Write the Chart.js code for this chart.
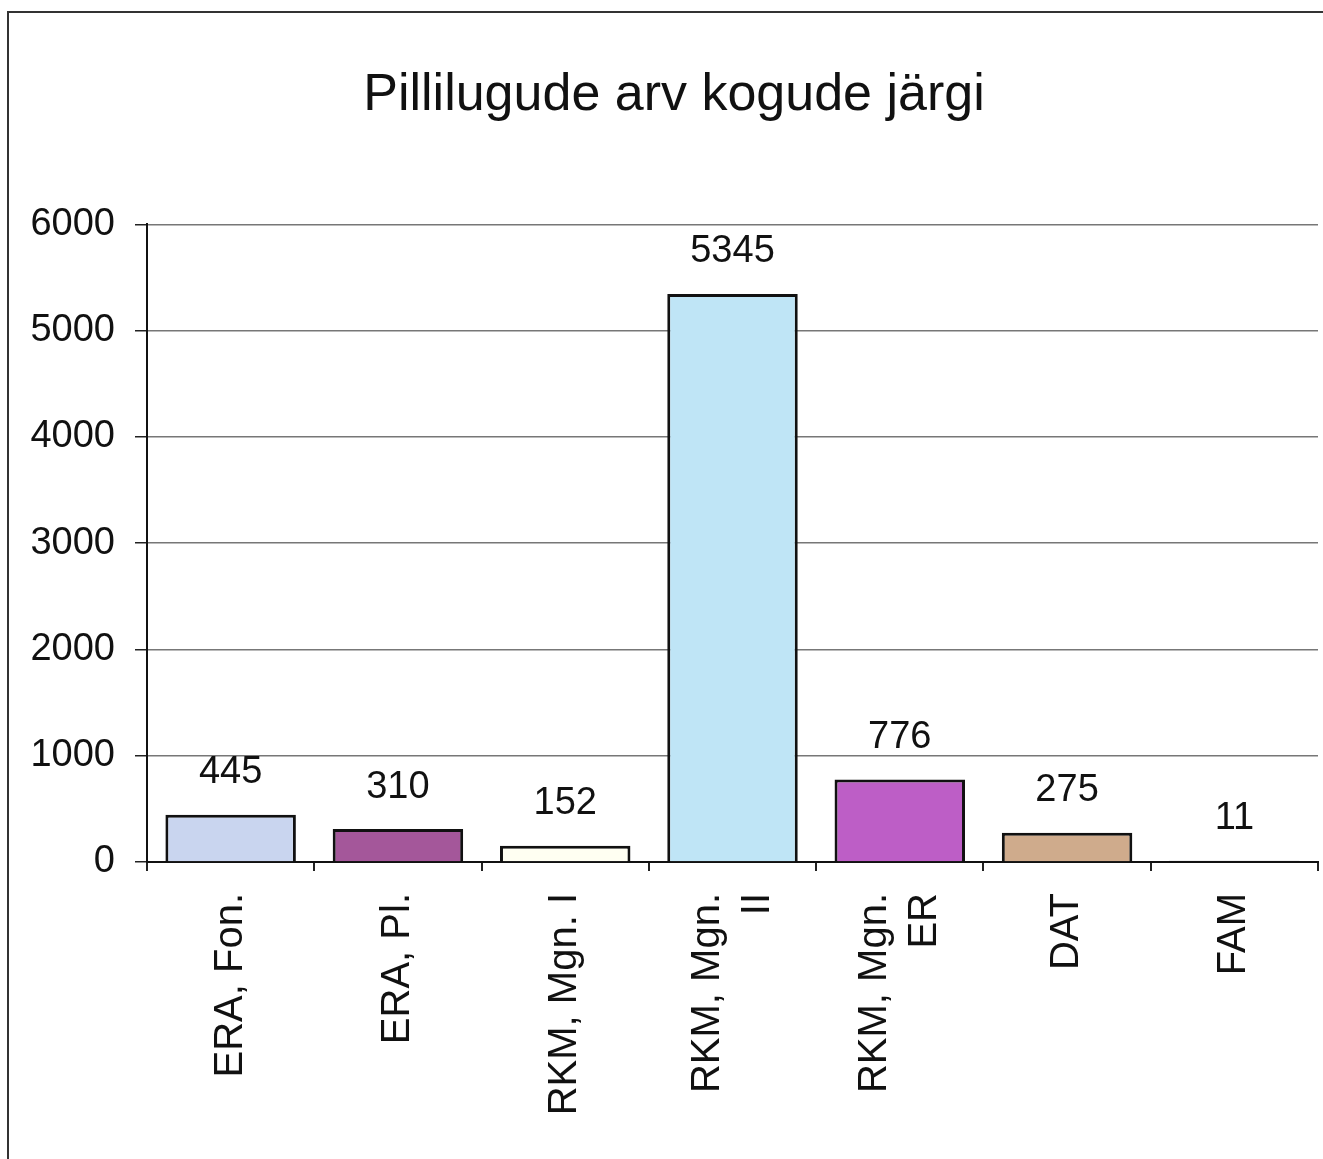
<html>
  <head>
    <style>
      body { margin: 0; background: #fff; }
    </style>
  </head>
  <body>
    <canvas id="myChart" width="1323" height="1159"></canvas>

    <script src="https://cdn.jsdelivr.net/npm/chart.js"></script>

    <script>
      // data
      var categories = [
        "ERA, Fon.",
        "ERA, Pl.",
        "RKM, Mgn. I",
        ["RKM, Mgn.", "II"],
        ["RKM, Mgn.", "ER"],
        "DAT",
        "FAM",
      ];
      var counts = [445, 310, 152, 5345, 776, 275, 11];
      var barColors = ["#c9d5ef", "#a4579a", "#fffff2", "#bfe5f6", "#bd5ec6", "#cfab8c", "#222222"];
      var yTicks = [0, 1000, 2000, 3000, 4000, 5000, 6000];
      var title = "Pillilugude arv kogude järgi";

      var font = "'Liberation Sans', Arial, sans-serif";
      var lineGap = 50; // distance between the two lines of a wrapped category label

      // white page with the frame of the original (left and top edge)
      var pagePlugin = {
        id: "page",
        beforeDraw(chart) {
          var ctx = chart.ctx;
          ctx.save();
          ctx.fillStyle = "#fff";
          ctx.fillRect(0, 0, chart.width, chart.height);
          ctx.strokeStyle = "#333";
          ctx.lineWidth = 2;
          ctx.beginPath();
          ctx.moveTo(8, chart.height);
          ctx.lineTo(8, 12);
          ctx.lineTo(chart.width, 12);
          ctx.stroke();
          ctx.restore();
        },
      };

      // value above each bar
      var valueLabels = {
        id: "valueLabels",
        afterDatasetsDraw(chart) {
          var ctx = chart.ctx;
          var meta = chart.getDatasetMeta(0);
          ctx.save();
          ctx.font = "38px " + font;
          ctx.fillStyle = "#111";
          ctx.textAlign = "center";
          ctx.textBaseline = "middle";
          meta.data.forEach(function (bar, i) {
            ctx.fillText(String(counts[i]), bar.x, bar.y - 42);
          });
          ctx.restore();
        },
      };

      var data = {
        labels: categories,
        datasets: [
          {
            data: counts,
            backgroundColor: barColors,
            borderColor: "#111",
            borderWidth: 3,
            barPercentage: 0.78,
            categoryPercentage: 1,
          },
        ],
      };

      var config = {
        type: "bar",
        data: data,
        plugins: [pagePlugin, valueLabels],
        options: {
          responsive: false,
          animation: false,
          devicePixelRatio: 1,
          layout: { padding: { left: 30, right: 5, top: 0, bottom: 0 } },
          plugins: {
            legend: { display: false },
            tooltip: { enabled: false },
            title: {
              display: true,
              text: title,
              color: "#111",
              font: { family: font, size: 52, weight: "normal" },
              padding: { top: 64, bottom: 98 },
            },
          },
          scales: {
            x: {
              grid: {
                offset: true,
                drawOnChartArea: true,
                color: function (c) {
                  return c.index === categories.length ? "#777" : "rgba(0,0,0,0)";
                },
                tickColor: "#222",
                tickLength: 9,
                lineWidth: 2,
              },
              border: { color: "#111", width: 2 },
              ticks: {
                color: "#111",
                // wrapped labels sit centred on the tick, single ones too
                callback: function (value, index) {
                  var lab = categories[index];
                  return Array.isArray(lab) ? lab : ["", lab];
                },
                font: function (c) {
                  var lab = categories[c.index];
                  var lh = Array.isArray(lab) ? lineGap : lineGap / 2;
                  return { family: font, size: 40, lineHeight: lh + "px" };
                },
                labelOffset: -lineGap / 2,
                minRotation: 90,
                maxRotation: 90,
                padding: 22,
                autoSkip: false,
              },
              afterFit: function (scale) {
                scale.height = 297;
              },
            },
            y: {
              min: 0,
              max: 6000,
              afterBuildTicks: function (scale) {
                scale.ticks = yTicks.map(function (v) {
                  return { value: v };
                });
              },
              grid: {
                color: "#777",
                lineWidth: 1.5,
                tickColor: "#222",
                tickLength: 12,
              },
              border: { color: "#111", width: 2 },
              ticks: {
                color: "#111",
                font: { family: font, size: 38 },
                padding: 20,
                callback: function (value) {
                  return String(value);
                },
              },
              afterFit: function (scale) {
                scale.width = 117;
              },
            },
          },
        },
      };

      const myChart = new Chart(document.getElementById("myChart"), config);
    </script>
  </body>
</html>
